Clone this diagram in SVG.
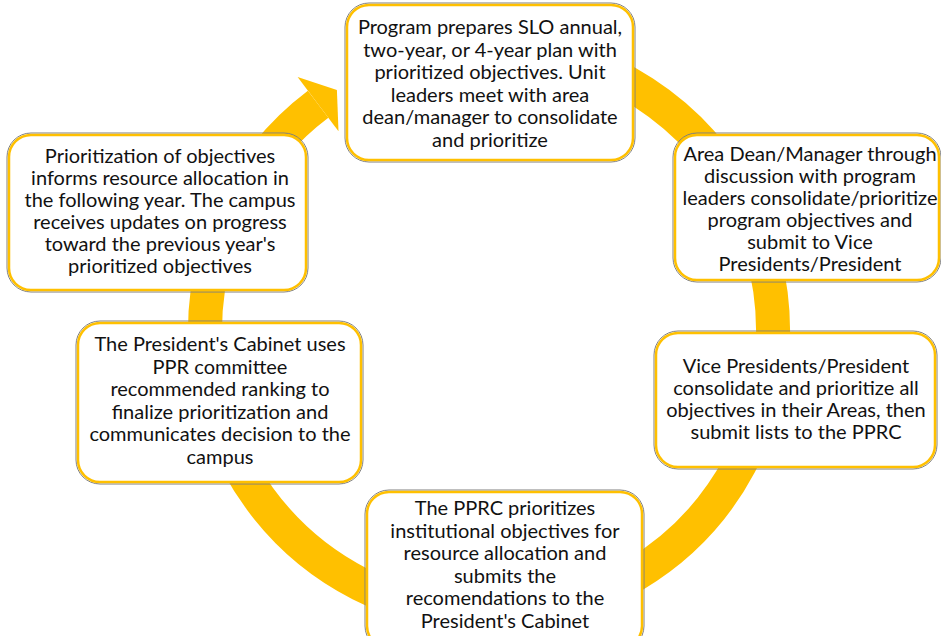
<svg xmlns="http://www.w3.org/2000/svg" width="941" height="636" viewBox="0 0 941 636">
<style>
.ring{fill:none;stroke:#FFC000;stroke-width:34;stroke-linecap:butt}
.head{fill:#FFC000;stroke:none}
.edge{fill:none;stroke:#7f7f7f;stroke-width:1}
.box{fill:#ffffff;stroke:#FFC000;stroke-width:2.5}
.t{font-family:Lato,"Liberation Sans",sans-serif;font-size:20px;fill:#111111;text-anchor:middle}
</style>
<rect width="941" height="636" fill="#ffffff"/>
<g id="connectors">
<path class="ring" d="M 369.0 73.6 A 284 284 0 1 1 318.1 104.2"/>
<polygon class="head" points="297.6,77.0 336.9,90.0 338.5,131.3"/>
</g>
<g id="node1">
<rect class="edge" x="345" y="3" width="290" height="159" rx="24"/>
<rect class="box" x="347" y="5" width="286" height="155" rx="22"/>
<text class="t"><tspan x="490" y="34">Program prepares SLO annual,</tspan><tspan x="490" y="56.5">two-year, or 4-year plan with</tspan><tspan x="490" y="79">prioritized objectives. Unit</tspan><tspan x="490" y="101.5">leaders meet with area</tspan><tspan x="490" y="124">dean/manager to consolidate</tspan><tspan x="490" y="146.5">and prioritize</tspan></text>
</g>
<g id="node2">
<rect class="edge" x="673" y="133" width="268" height="149" rx="24"/>
<rect class="box" x="675" y="135" width="264" height="145" rx="22"/>
<text class="t"><tspan x="810" y="161">Area Dean/Manager through</tspan><tspan x="810" y="183">discussion with program</tspan><tspan x="810" y="205">leaders consolidate/prioritize</tspan><tspan x="810" y="227">program objectives and</tspan><tspan x="810" y="249">submit to Vice</tspan><tspan x="810" y="271">Presidents/President</tspan></text>
</g>
<g id="node3">
<rect class="edge" x="654" y="331" width="283" height="138" rx="24"/>
<rect class="box" x="656" y="333" width="279" height="134" rx="22"/>
<text class="t"><tspan x="796" y="373">Vice Presidents/President</tspan><tspan x="796" y="395">consolidate and prioritize all</tspan><tspan x="796" y="417">objectives in their Areas, then</tspan><tspan x="796" y="439">submit lists to the PPRC</tspan></text>
</g>
<g id="node4">
<rect class="edge" x="365" y="490" width="279" height="160" rx="24"/>
<rect class="box" x="367" y="492" width="275" height="156" rx="22"/>
<text class="t"><tspan x="505" y="515">The PPRC prioritizes</tspan><tspan x="505" y="537.5">institutional objectives for</tspan><tspan x="505" y="560">resource allocation and</tspan><tspan x="505" y="582.5">submits the</tspan><tspan x="505" y="605">recomendations to the</tspan><tspan x="505" y="627.5">President's Cabinet</tspan></text>
</g>
<g id="node5">
<rect class="edge" x="76" y="321" width="287" height="163" rx="24"/>
<rect class="box" x="78" y="323" width="283" height="159" rx="22"/>
<text class="t"><tspan x="220" y="351">The President's Cabinet uses</tspan><tspan x="220" y="373.5">PPR committee</tspan><tspan x="220" y="396">recommended ranking to</tspan><tspan x="220" y="418.5">finalize prioritization and</tspan><tspan x="220" y="441">communicates decision to the</tspan><tspan x="220" y="463.5">campus</tspan></text>
</g>
<g id="node6">
<rect class="edge" x="7" y="133" width="301" height="159" rx="24"/>
<rect class="box" x="9" y="135" width="297" height="155" rx="22"/>
<text class="t"><tspan x="160" y="163">Prioritization of objectives</tspan><tspan x="160" y="185">informs resource allocation in</tspan><tspan x="160" y="207">the following year. The campus</tspan><tspan x="160" y="229">receives updates on progress</tspan><tspan x="160" y="251">toward the previous year's</tspan><tspan x="160" y="273">prioritized objectives</tspan></text>
</g>
</svg>
